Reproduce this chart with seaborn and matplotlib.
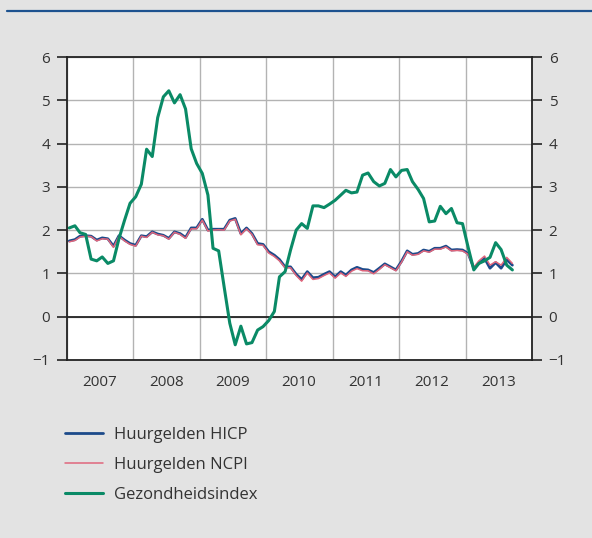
import matplotlib
matplotlib.use("Agg")
import matplotlib.pyplot as plt
import matplotlib.dates as mdates
from matplotlib.lines import Line2D
import pandas as pd
import seaborn as sns

# Monthly values, Jan 2007 - Sep 2013
months = pd.date_range("2007-01-01", "2013-09-01", freq="MS") + pd.Timedelta(days=14)

hicp = [1.75, 1.78, 1.86, 1.87, 1.86, 1.77, 1.82, 1.80, 1.63, 1.87, 1.77, 1.69,
        1.65, 1.87, 1.85, 1.96, 1.91, 1.88, 1.81, 1.96, 1.92, 1.83, 2.05, 2.05,
        2.25, 2.00, 2.02, 2.02, 2.02, 2.23, 2.27, 1.92, 2.05, 1.92, 1.69, 1.67,
        1.50, 1.42, 1.32, 1.15, 1.15, 0.98, 0.86, 1.04, 0.90, 0.91, 0.98, 1.04,
        0.92, 1.04, 0.96, 1.08, 1.14, 1.09, 1.08, 1.02, 1.12, 1.22, 1.15, 1.08,
        1.28, 1.52, 1.44, 1.46, 1.54, 1.51, 1.58, 1.58, 1.63, 1.54, 1.55, 1.54,
        1.46, 1.12, 1.23, 1.35, 1.12, 1.25, 1.12, 1.32, 1.19]

ncpi = [1.73, 1.76, 1.84, 1.86, 1.85, 1.75, 1.80, 1.79, 1.60, 1.86, 1.75, 1.67,
        1.63, 1.86, 1.83, 1.95, 1.89, 1.87, 1.79, 1.95, 1.90, 1.81, 2.03, 2.03,
        2.23, 1.98, 2.00, 2.01, 2.00, 2.21, 2.25, 1.89, 2.03, 1.90, 1.66, 1.65,
        1.47, 1.39, 1.29, 1.13, 1.13, 0.95, 0.82, 1.01, 0.86, 0.88, 0.95, 1.01,
        0.89, 1.01, 0.93, 1.05, 1.11, 1.06, 1.06, 0.99, 1.09, 1.20, 1.13, 1.06,
        1.26, 1.50, 1.42, 1.44, 1.52, 1.49, 1.56, 1.56, 1.61, 1.52, 1.53, 1.52,
        1.44, 1.14, 1.29, 1.40, 1.19, 1.27, 1.19, 1.37, 1.23]

gezondheid = [2.05, 2.10, 1.94, 1.90, 1.33, 1.29, 1.38, 1.23, 1.29, 1.80, 2.23, 2.62,
              2.77, 3.06, 3.87, 3.70, 4.60, 5.08, 5.22, 4.94, 5.13, 4.80, 3.88, 3.54,
              3.31, 2.81, 1.58, 1.52, 0.69, -0.15, -0.65, -0.22, -0.63, -0.60, -0.31, -0.23,
              -0.09, 0.12, 0.92, 1.04, 1.54, 2.00, 2.15, 2.04, 2.56, 2.56, 2.52, 2.60,
              2.69, 2.81, 2.92, 2.86, 2.88, 3.27, 3.32, 3.12, 3.02, 3.08, 3.40, 3.23,
              3.38, 3.40, 3.12, 2.94, 2.73, 2.19, 2.21, 2.55, 2.38, 2.50, 2.17, 2.15,
              1.60, 1.08, 1.23, 1.29, 1.37, 1.71, 1.55, 1.19, 1.08]

df = pd.DataFrame({"date": months, "hicp": hicp, "ncpi": ncpi, "gez": gezondheid})

sns.set_style("white")
plt.rcParams["font.family"] = ["Open Sans", "DejaVu Sans"]

bg = "#e3e3e3"
txt = "#333333"
fig = plt.figure(figsize=(5.92, 5.38), dpi=100, facecolor=bg)
ax = fig.add_axes([0.1127, 0.331, 0.786, 0.563])
ax.set_facecolor("white")

sns.lineplot(data=df, x="date", y="hicp", ax=ax, color="#1c4a8a", lw=2.0,
             label="Huurgelden HICP")
sns.lineplot(data=df, x="date", y="ncpi", ax=ax, color="#e0667c", lw=1.1,
             label="Huurgelden NCPI")
sns.lineplot(data=df, x="date", y="gez", ax=ax, color="#0a8a66", lw=2.2,
             label="Gezondheidsindex")

ax.set_xlim(pd.Timestamp("2007-01-01"), pd.Timestamp("2014-01-01"))
ax.set_ylim(-1, 6)
ax.set_yticks(range(-1, 7))
ax.axhline(0, color="#222222", lw=1.3, zorder=1.5)

# years labelled mid-year, year boundaries as minor ticks/grid
ax.xaxis.set_major_locator(mdates.MonthLocator(bymonth=7, bymonthday=1))
ax.xaxis.set_major_formatter(mdates.DateFormatter("%Y"))
ax.xaxis.set_minor_locator(mdates.YearLocator())
ax.grid(True, which="minor", axis="x", color="#b3b3b3", lw=1.0)
ax.grid(True, which="major", axis="y", color="#b3b3b3", lw=1.0)
ax.grid(False, which="major", axis="x")
ax.set_axisbelow(True)

ax.tick_params(axis="x", which="major", length=0, pad=11, labelsize=11, labelcolor=txt)
ax.tick_params(axis="x", which="minor", direction="in", length=7, width=1.3,
               color="#222222", top=False)
ax.tick_params(axis="y", which="major", direction="out", length=7, width=1.2,
               color="#222222", left=True, right=True, labelleft=True,
               labelright=True, labelsize=11, labelcolor=txt, pad=5)

for s in ax.spines.values():
    s.set_visible(True)
    s.set_color("#222222")
    s.set_linewidth(1.3)

ax.set_xlabel("")
ax.set_ylabel("")

ax.legend(loc="upper left", bbox_to_anchor=(0.11, 0.207), bbox_transform=fig.transFigure,
          frameon=False, fontsize=12, handlelength=2.3, handletextpad=0.65,
          labelspacing=0.85, borderpad=0, borderaxespad=0, labelcolor=txt)

# top rule
fig.add_artist(Line2D([7 / 592, 1.0], [1 - 11 / 538, 1 - 11 / 538],
                      transform=fig.transFigure, color="#1d528f", lw=1.6))

fig.savefig("out.png", dpi=100, facecolor=bg)
